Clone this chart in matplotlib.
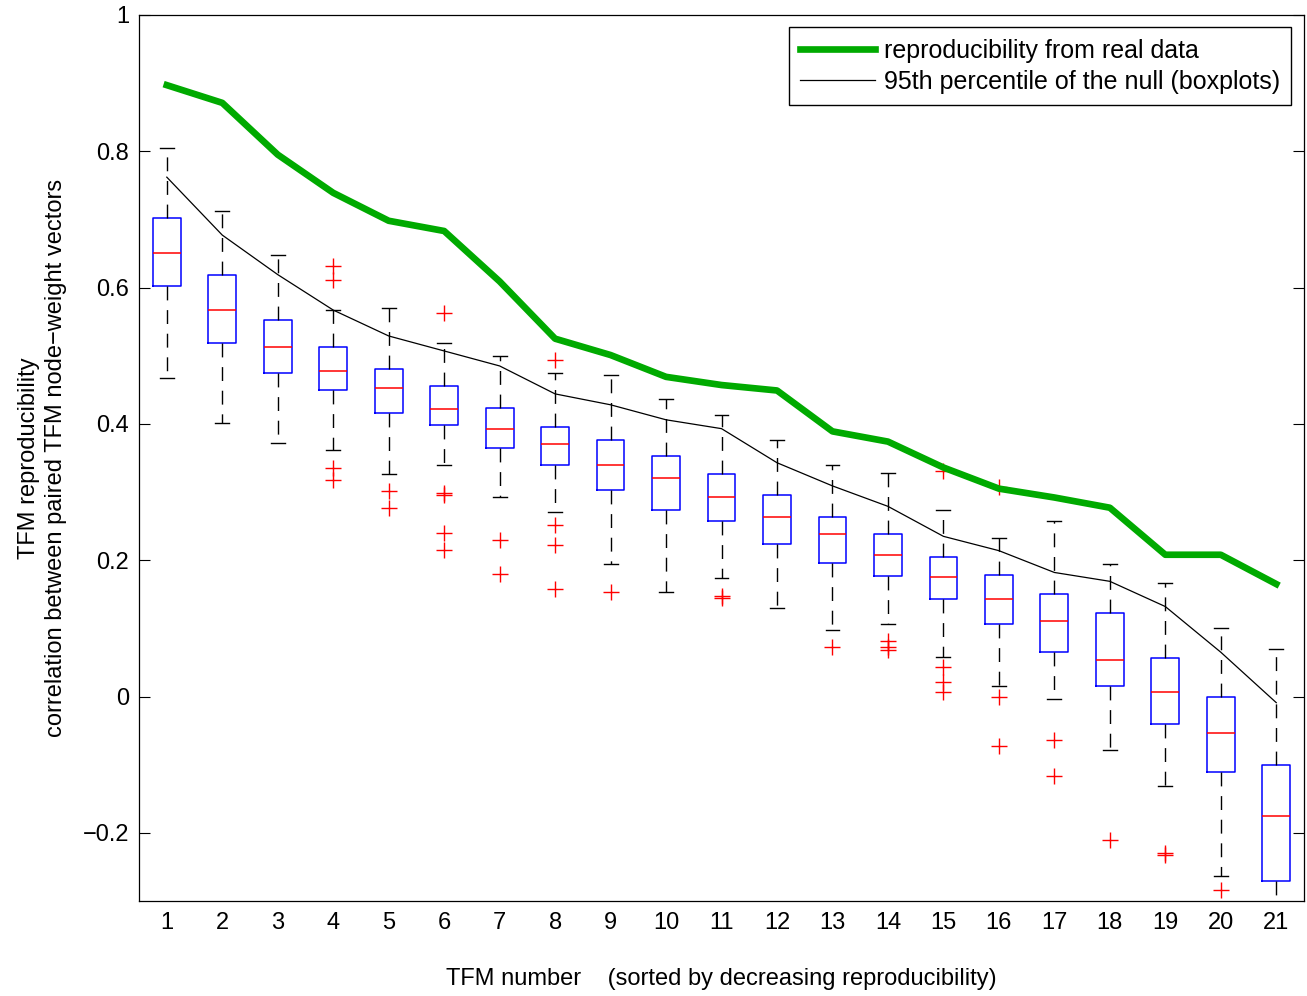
import numpy as np
import matplotlib
matplotlib.use("Agg")
import matplotlib.pyplot as plt

plt.rcParams['font.family'] = ['Liberation Sans', 'DejaVu Sans']

# --- values ---
tfm = list(range(1, 22))

real_repro = [0.897, 0.871, 0.795, 0.739, 0.698, 0.683, 0.609, 0.525, 0.501, 0.469,
              0.457, 0.449, 0.389, 0.374, 0.336, 0.305, 0.292, 0.277, 0.208, 0.208, 0.165]

null_p95 = [0.762, 0.677, 0.619, 0.567, 0.529, 0.507, 0.485, 0.444, 0.428, 0.406,
            0.393, 0.343, 0.309, 0.279, 0.235, 0.214, 0.182, 0.169, 0.132, 0.065, -0.009]

# boxplot summaries of the null distribution
q1 = [0.603, 0.519, 0.475, 0.450, 0.416, 0.399, 0.364, 0.340, 0.303, 0.273,
      0.257, 0.224, 0.196, 0.177, 0.143, 0.107, 0.066, 0.015, -0.040, -0.111, -0.271]
med = [0.650, 0.567, 0.513, 0.478, 0.453, 0.422, 0.392, 0.370, 0.340, 0.320,
       0.293, 0.264, 0.238, 0.208, 0.176, 0.143, 0.111, 0.054, 0.007, -0.054, -0.175]
q3 = [0.702, 0.619, 0.553, 0.513, 0.481, 0.455, 0.424, 0.396, 0.377, 0.353,
      0.327, 0.296, 0.263, 0.239, 0.205, 0.179, 0.150, 0.122, 0.056, 0.000, -0.100]
whis_lo = [0.468, 0.402, 0.372, 0.362, 0.326, 0.340, 0.293, 0.271, 0.195, 0.154,
           0.174, 0.130, 0.097, 0.106, 0.058, 0.015, -0.003, -0.078, -0.132, -0.264, -0.33]
whis_hi = [0.805, 0.713, 0.648, 0.567, 0.570, 0.518, 0.500, 0.475, 0.472, 0.437,
           0.413, 0.377, 0.340, 0.328, 0.273, 0.233, 0.258, 0.194, 0.167, 0.101, 0.070]
outliers = [
    [],
    [],
    [],
    [0.632, 0.611, 0.336, 0.317],
    [0.301, 0.276],
    [0.563, 0.299, 0.296, 0.240, 0.215],
    [0.229, 0.180],
    [0.494, 0.252, 0.223, 0.158],
    [0.154],
    [],
    [0.148, 0.145],
    [],
    [0.073],
    [0.082, 0.072, 0.068],
    [0.331, 0.043, 0.022, 0.006],
    [0.308, 0.000, -0.073],
    [-0.064, -0.117],
    [-0.210],
    [-0.229, -0.233],
    [-0.284],
    [],
]

ytick_vals = [-0.2, 0, 0.2, 0.4, 0.6, 0.8, 1]
ytick_labels = ['\u22120.2', '0', '0.2', '0.4', '0.6', '0.8', '1']

stats = []
for i in range(len(tfm)):
    stats.append(dict(med=med[i], q1=q1[i], q3=q3[i],
                      whislo=whis_lo[i], whishi=whis_hi[i], fliers=outliers[i]))

fig = plt.figure(figsize=(13.07, 9.96), dpi=100)
ax = fig.add_axes([0.1064, 0.0954, 0.8913, 0.8896])

ax.bxp(stats, positions=tfm, widths=0.5, showfliers=True,
       boxprops=dict(color='blue', linewidth=1.1),
       medianprops=dict(color='red', linewidth=1.1),
       whiskerprops=dict(color='black', linewidth=1.0, linestyle=(0, (10, 7))),
       capprops=dict(color='black', linewidth=1.0),
       flierprops=dict(marker='+', markeredgecolor='red', markersize=11,
                       markeredgewidth=1.0, linestyle='none'))

ax.plot(tfm, real_repro, color='#00aa00', linewidth=4.8,
        label='reproducibility from real data', zorder=4)
ax.plot(tfm, null_p95, color='black', linewidth=0.9,
        label='95th percentile of the null (boxplots)', zorder=4)

ax.set_xlim(0.5, 21.5)
ax.set_ylim(-0.3, 1)
ax.set_xticks(tfm)
ax.set_xticklabels([str(t) for t in tfm])
ax.set_yticks(ytick_vals)
ax.set_yticklabels(ytick_labels)

# MATLAB look: y ticks inward on both sides, no tick marks on x
ax.tick_params(axis='y', direction='in', length=8, width=0.8, right=True,
               labelsize=17, pad=7)
ax.tick_params(axis='x', length=0, labelsize=17, pad=8)
for s in ax.spines.values():
    s.set_linewidth(0.9)

ax.set_xlabel('TFM number    (sorted by decreasing reproducibility)', fontsize=17)
ax.xaxis.label.set_va('center')
ax.xaxis.set_label_coords(0.5, -0.088)
ax.set_ylabel('TFM reproducibility\ncorrelation between paired TFM node\u2212weight vectors',
              fontsize=17, linespacing=1.3)
ax.yaxis.label.set_va('center')
ax.yaxis.set_label_coords(-0.083, 0.5)

leg = ax.legend(loc='upper right', fontsize=18, fancybox=False, framealpha=1,
                edgecolor='black', handlelength=3.0, handletextpad=0.35,
                borderpad=0.45, labelspacing=0.3, borderaxespad=0.5)
leg.get_frame().set_linewidth(1.0)

fig.savefig('out.png', dpi=100)
